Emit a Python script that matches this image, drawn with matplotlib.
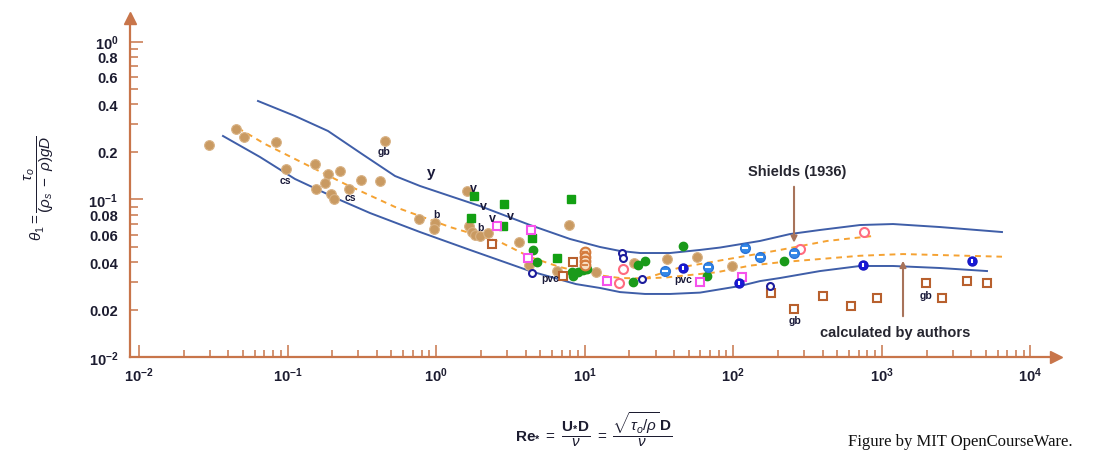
import matplotlib
matplotlib.use('Agg')
import matplotlib.pyplot as plt

plt.rcParams['font.family'] = ['Liberation Sans', 'DejaVu Sans']
plt.rcParams['mathtext.fontset'] = 'custom'
plt.rcParams['mathtext.rm'] = 'Liberation Sans'
plt.rcParams['mathtext.it'] = 'Liberation Sans:italic'
plt.rcParams['mathtext.bf'] = 'Liberation Sans:bold'

# ---------------- data ----------------
tan_x = [0.0296, 0.0448, 0.0512, 0.0837, 0.0970, 0.1543, 0.1879, 0.2266, 0.1780, 0.1555,
         0.1971, 0.2056, 0.2594, 0.3124, 0.4195, 0.4565, 0.7614, 0.9755, 0.968, 1.602,
         1.673, 1.736, 1.827, 1.974, 2.245, 3.613, 7.877, 4.239, 6.480, 11.91,
         21.57, 35.96, 57.26, 98.77]
tan_y = [0.2215, 0.2798, 0.2507, 0.2324, 0.1561, 0.1679, 0.1446, 0.1516, 0.1263, 0.1162,
         0.1087, 0.1013, 0.1174, 0.1323, 0.1315, 0.2338, 0.0752, 0.0705, 0.0654, 0.1132,
         0.0682, 0.0620, 0.0596, 0.0590, 0.0613, 0.0536, 0.0689, 0.0384, 0.0354, 0.0346,
         0.0394, 0.0420, 0.0429, 0.0379]

gsq_x = [1.807, 1.718, 2.877, 2.806, 8.050, 4.398, 6.480]
gsq_y = [0.1052, 0.0760, 0.0937, 0.0676, 0.1007, 0.0570, 0.0424]

gci_x = [4.467, 4.797, 8.175, 8.381, 9.056, 9.694, 10.31, 22.95, 25.45, 21.04, 45.65, 66.53, 220.4]
gci_y = [0.0479, 0.0403, 0.0346, 0.0329, 0.0346, 0.0357, 0.0363, 0.0384, 0.0408, 0.0299, 0.0510, 0.0327, 0.0408]

psq_x = [2.557, 4.331, 4.135, 14.23, 59.71, 113.6]
psq_y = [0.0676, 0.0641, 0.0424, 0.0304, 0.0300, 0.0321]

pci_x = [18.19, 17.07, 281.1, 761.4]
pci_y = [0.0365, 0.0297, 0.0486, 0.0625]

bsq_x = [2.378, 8.381, 7.178, 178.5, 403.4, 257.4, 614.8, 926.8, 1981, 2526, 3755, 5121]
bsq_y = [0.0522, 0.0400, 0.0329, 0.0254, 0.0246, 0.0201, 0.0210, 0.0237, 0.0296, 0.0237, 0.0306, 0.0294]

nav_x = [4.439, 17.74, 18.24, 24.18, 176.6]
nav_y = [0.0342, 0.0456, 0.0423, 0.0313, 0.0282]

mblue_x = [34.70, 67.05, 119.9, 151.2, 257.4]
mblue_y = [0.0351, 0.0371, 0.0494, 0.0430, 0.0458]

rblue_x = [46.07, 108.4, 742.7, 4021]
rblue_y = [0.0368, 0.0296, 0.0384, 0.0409]

ost_x = [10.05, 10.05, 10.05, 10.05]
ost_y = [0.0465, 0.0435, 0.0409, 0.0386]

upper_x = [0.0633, 0.1123, 0.1873, 0.3173, 0.5291, 0.7792, 1.240, 1.974, 4.284, 7.962, 12.68,
           17.28, 23.56, 37.50, 59.71, 81.38, 151.2, 240.8, 383.3, 712.2, 1188, 2460, 6429]
upper_y = [0.4209, 0.3382, 0.2717, 0.1942, 0.1409, 0.1218, 0.1052, 0.0909, 0.0689, 0.0562, 0.0500,
           0.0472, 0.0458, 0.0458, 0.0479, 0.0496, 0.0546, 0.0604, 0.0641, 0.0689, 0.0699, 0.0669, 0.0622]

lower_x = [0.0368, 0.0653, 0.1123, 0.2256, 0.3590, 0.7792, 1.691, 4.284, 8.739, 12.68, 17.28,
           25.45, 37.50, 59.71, 110.9, 151.2, 206.2, 383.3, 712.2, 1188, 2460, 5097]
lower_y = [0.2526, 0.1859, 0.1349, 0.0993, 0.0821, 0.0622, 0.0479, 0.0352, 0.0291, 0.0275, 0.0259,
           0.0252, 0.0252, 0.0257, 0.0283, 0.0304, 0.0318, 0.0352, 0.0379, 0.0379, 0.0368, 0.0352]

shields_x = [0.0464, 0.0706, 0.1123, 0.2438, 0.5291, 1.240, 2.692, 4.284, 6.821, 10.86, 17.28, 25.45]
shields_y = [0.2838, 0.2247, 0.1806, 0.1254, 0.0897, 0.0669, 0.0538, 0.0432, 0.0373, 0.0337, 0.0318, 0.0316]

shields_hi_x = [25.45, 43.78, 59.71, 110.9, 206.2, 427.2, 871.1]
shields_hi_y = [0.0316, 0.0371, 0.0390, 0.0432, 0.0479, 0.0546, 0.0587]

authors_x = [25.45, 35.79, 77.68, 129.6, 206.2, 712.2, 1387, 6429]
authors_y = [0.0316, 0.0321, 0.0346, 0.0381, 0.0400, 0.0440, 0.0451, 0.0434]

lab_text = ['gb', 'cs', 'cs', 'b', 'b', 'pvc', 'pvc', 'gb', 'gb']
lab_x = [0.446, 0.0962, 0.2634, 1.009, 1.974, 5.842, 46.07, 260.2, 1981]
lab_y = [0.203, 0.1329, 0.1037, 0.0809, 0.0666, 0.0317, 0.0313, 0.01724, 0.0249]

v_text = ['y', 'v', 'v', 'v', 'v']
v_x = [0.924, 1.779, 2.078, 2.404, 3.182]
v_y = [0.1494, 0.1178, 0.0906, 0.0760, 0.0788]

xmaj = [1e-2, 1e-1, 1e0, 1e1, 1e2, 1e3, 1e4]
xmaj_lab = ['-2', '-1', '0', '1', '2', '3', '4']
ymaj = [1e-2, 1e-1, 1e0]
ymaj_lab = ['-2', '-1', '0']
ylab_ticks = [0.02, 0.04, 0.06, 0.08, 0.2, 0.4, 0.6, 0.8]
ylab_text = ['0.02', '0.04', '0.06', '0.08', '0.2', '0.4', '0.6', '0.8']
yunl_ticks = [0.03, 0.05, 0.07, 0.09, 0.3, 0.5, 0.7, 0.9]

# ---------------- figure ----------------
W, H = 1109, 460
fig = plt.figure(figsize=(W / 100, H / 100), dpi=100)
L, R, B, T = 130, 1056, 358.3, 19
ax = fig.add_axes([L / W, (H - B) / H, (R - L) / W, (B - T) / H])
ax.set_xscale('log')
ax.set_yscale('log')
ax.set_xlim(0.008711, 14847)
ax.set_ylim(0.01, 1.413)

AX = '#c8754a'
TXT = '#1c1c30'
for s in ['top', 'right']:
    ax.spines[s].set_visible(False)
for s in ['left', 'bottom']:
    ax.spines[s].set_color(AX)
    ax.spines[s].set_linewidth(1.6)
ax.plot([0], [1], marker='^', ms=9, color=AX, transform=ax.transAxes, clip_on=False)
ax.plot([1], [0], marker='>', ms=9, color=AX, transform=ax.transAxes, clip_on=False)

# ticks
ax.set_xticks(xmaj)
ax.set_xticklabels([r'$\mathbf{10^{%s}}$' % e for e in xmaj_lab])
xminor = [m * 10.0 ** d for d in range(-2, 4) for m in range(2, 10)]
ax.set_xticks(xminor, minor=True)
ax.set_xticklabels([''] * len(xminor), minor=True)
ax.set_yticks(ymaj)
ax.set_yticklabels([r'$\mathbf{10^{%s}}$' % e for e in ymaj_lab])
ax.set_yticks(ylab_ticks + yunl_ticks, minor=True)
ax.set_yticklabels(ylab_text + [''] * len(yunl_ticks), minor=True)
ax.tick_params(which='both', direction='in', color=AX, width=1.1, labelcolor=TXT, labelsize=10.5)
ax.tick_params(axis='x', which='major', length=8.6, pad=6)
ax.tick_params(axis='x', which='minor', length=5, pad=6)
ax.tick_params(axis='y', which='major', length=9, pad=8.5)
ax.tick_params(axis='y', which='minor', length=5.5, pad=8.5)
for t in ax.get_yticklabels(minor=True):
    t.set_fontweight('bold')

# curves
BL = '#3f5ea8'
OR = '#f5a232'
ax.plot(upper_x, upper_y, color=BL, lw=1.4, zorder=2)
ax.plot(lower_x, lower_y, color=BL, lw=1.4, zorder=2)
for cx, cy in [(shields_x, shields_y), (shields_hi_x, shields_hi_y), (authors_x, authors_y)]:
    ax.plot(cx, cy, color=OR, lw=1.4, dashes=(3, 2.5), zorder=2)

# markers
ax.plot(tan_x, tan_y, 'o', ms=7, mfc='#c99a62', mec='#d9b386', mew=0.8, ls='none', zorder=3)
ax.plot(gsq_x, gsq_y, 's', ms=5.5, color='#13a013', ls='none', zorder=4)
ax.plot(gci_x, gci_y, 'o', ms=6, color='#1a9a1a', ls='none', zorder=4)
ax.plot(psq_x, psq_y, 's', ms=5.5, mfc='white', mec='#f652ec', mew=1.5, ls='none', zorder=4)
ax.plot(pci_x, pci_y, 'o', ms=6.5, mfc='white', mec='#ff6c80', mew=1.5, ls='none', zorder=4)
ax.plot(bsq_x, bsq_y, 's', ms=5.5, mfc='white', mec='#b8602e', mew=1.5, ls='none', zorder=4)
ax.plot(nav_x, nav_y, 'o', ms=5, mfc='white', mec='#1c1c9c', mew=1.5, ls='none', zorder=4)
ax.plot(mblue_x, mblue_y, 'o', ms=7, mfc='#3388e8', mec='#2a74d8', ls='none', zorder=4)
ax.plot(mblue_x, mblue_y, '_', ms=4, mec='white', mew=1.5, ls='none', zorder=5)
ax.plot(rblue_x, rblue_y, 'o', ms=6.5, mfc='#1818d8', mec='#1818c0', ls='none', zorder=4)
ax.plot(rblue_x, rblue_y, '|', ms=3.5, mec='white', mew=1.5, ls='none', zorder=5)
ax.plot(ost_x, ost_y, 'o', ms=7, mfc='#f8dcc0', mec='#d47b3c', mew=1.5, ls='none', zorder=4)
ax.plot(ost_x, ost_y, '_', ms=4, mec='#d47b3c', mew=1.3, ls='none', zorder=5)

# small labels
for t, x, y in zip(lab_text, lab_x, lab_y):
    ax.text(x, y, t, fontsize=7.5, fontweight='bold', color='#1a1a3a', ha='center', va='center', zorder=6)
for i, (t, x, y) in enumerate(zip(v_text, v_x, v_y)):
    ax.text(x, y, t, fontsize=11 if i == 0 else 9, fontweight='bold', color='#1a1a3a',
            ha='center', va='center', zorder=6)

# annotations
ARW = '#a8735a'
ax.text(268.4, 0.1516, 'Shields (1936)', fontsize=10.5, fontweight='bold', color='#262630',
        ha='center', va='center')
ax.annotate('', xy=(256.2, 0.0511), xytext=(256.2, 0.1254),
            arrowprops=dict(arrowstyle='-|>', color=ARW, lw=1.5, mutation_scale=9))
ax.text(1225, 0.01446, 'calculated by authors', fontsize=10.5, fontweight='bold', color='#262630',
        ha='center', va='center')
ax.annotate('', xy=(1387, 0.0426), xytext=(1387, 0.01749),
            arrowprops=dict(arrowstyle='-|>', color=ARW, lw=1.5, mutation_scale=9))

# axis titles
fig.text(39 / W, 1 - 188 / H, r'$\theta_1 = \dfrac{\tau_o}{(\rho_s\ -\ \rho)g\mathit{D}}$',
         rotation=90, ha='center', va='center', fontsize=11, color=TXT)
fig.text(594 / W, 1 - 430 / H,
         r'$\mathbf{Re_{*}}\ =\ \dfrac{\mathbf{U_{*}D}}{\nu}\ =\ \dfrac{\sqrt{\tau_o/\rho}\,\mathbf{D}}{\nu}$',
         ha='center', va='center', fontsize=11, color=TXT)
fig.text(848 / W, 1 - 446 / H, 'Figure by MIT OpenCourseWare.', family='Liberation Serif',
         fontsize=12, color='#111111', ha='left', va='baseline')

fig.savefig('out.png', dpi=100)
